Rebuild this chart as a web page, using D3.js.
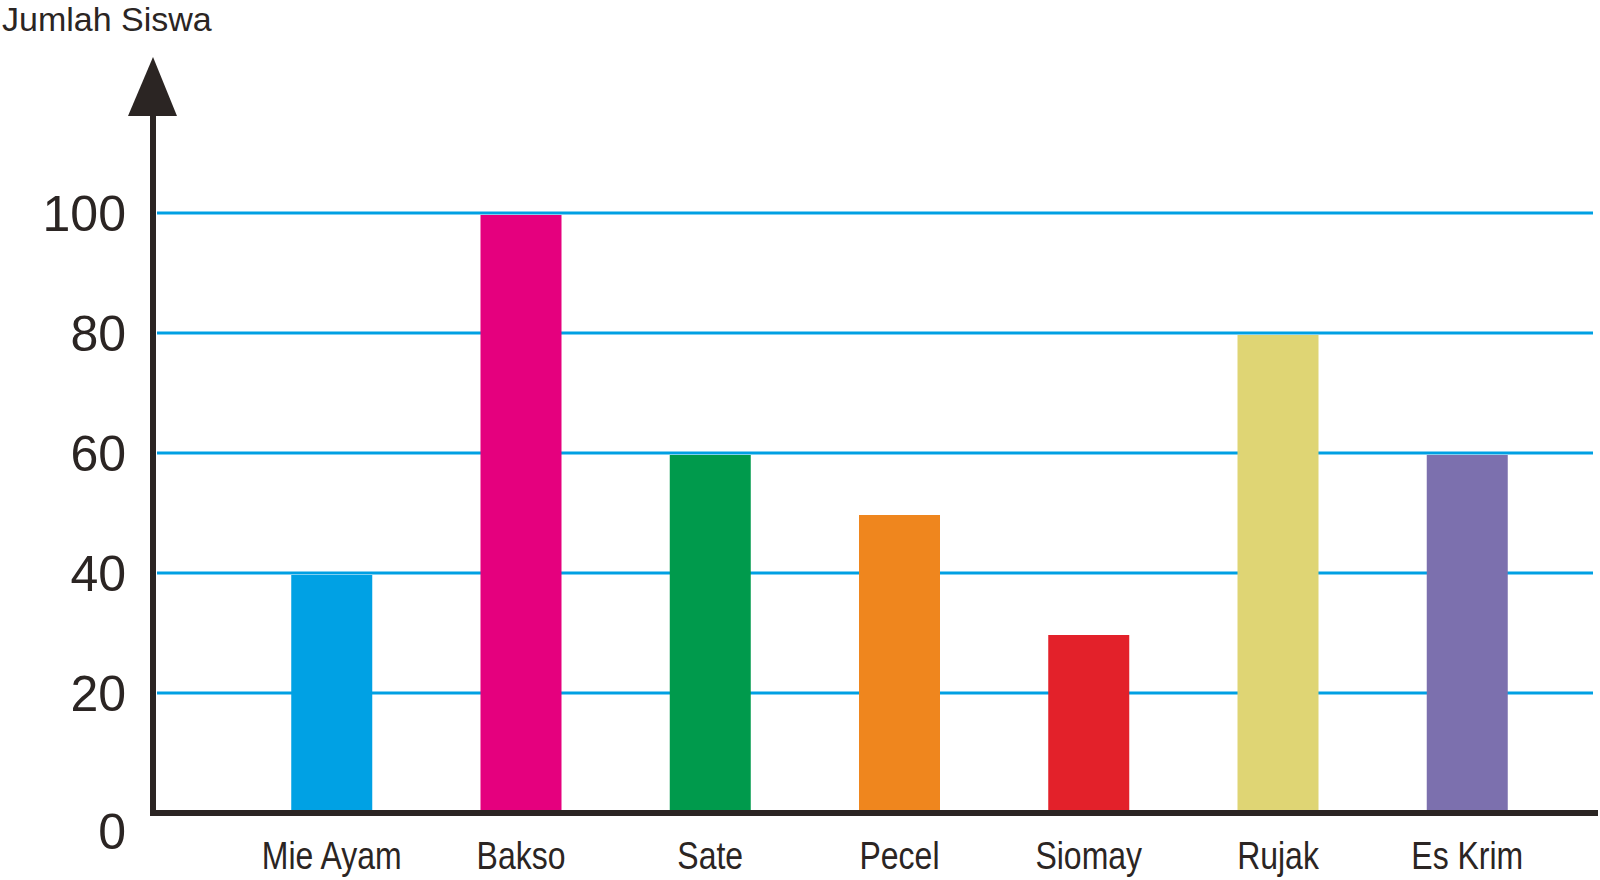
<!DOCTYPE html>
<html>
<head>
<meta charset="utf-8">
<script src="https://cdn.jsdelivr.net/npm/d3@7"></script>
<style>
  body { margin: 0; background: #fff; }
  svg { display: block; }
</style>
</head>
<body>
<div class="canvas"></div>
<script>
const categories = ["Mie Ayam", "Bakso", "Sate", "Pecel", "Siomay", "Rujak", "Es Krim"];
const values = [40, 100, 60, 50, 30, 80, 60];
const colors = ["#00a1e4", "#e5007e", "#009a4c", "#ef861e", "#e3212a", "#dfd574", "#7c70ae"];
const yTicks = [0, 20, 40, 60, 80, 100];
const yTitle = "Jumlah Siswa";

const width = 1600;
const height = 880;
const ink = "#2b2523";
const gridColor = "#00a0e3";

const svg = d3
  .select(".canvas")
  .append("svg")
  .attr("width", width)
  .attr("height", height);

const x = d3.scaleBand().domain(categories).range([183, 1616]).padding(0.572);
const y = d3.scaleLinear().domain([0, 100]).range([813, 213]);

// horizontal grid lines (behind bars)
svg
  .append("g")
  .selectAll("line")
  .data(yTicks.filter((d) => d > 0))
  .enter()
  .append("line")
  .attr("x1", 157)
  .attr("x2", 1593)
  .attr("y1", (d) => y(d))
  .attr("y2", (d) => y(d))
  .attr("stroke", gridColor)
  .attr("stroke-width", 3);

// bars
svg
  .append("g")
  .selectAll("rect")
  .data(values)
  .enter()
  .append("rect")
  .attr("x", (d, i) => x(categories[i]))
  .attr("width", x.bandwidth())
  .attr("y", (d) => y(d) + 2)
  .attr("height", (d) => y(0) - y(d) - 2)
  .attr("fill", (d, i) => colors[i]);

// axes
svg
  .append("line")
  .attr("x1", 153)
  .attr("x2", 153)
  .attr("y1", 110)
  .attr("y2", 816)
  .attr("stroke", ink)
  .attr("stroke-width", 6);

svg
  .append("line")
  .attr("x1", 150)
  .attr("x2", 1598)
  .attr("y1", y(0))
  .attr("y2", y(0))
  .attr("stroke", ink)
  .attr("stroke-width", 6);

svg
  .append("path")
  .attr("d", "M153,57 L177,116 L128,116 Z")
  .attr("fill", ink);

// y tick labels
svg
  .append("g")
  .selectAll("text")
  .data(yTicks)
  .enter()
  .append("text")
  .attr("x", 126)
  .attr("y", (d) => y(d) + (d === 0 ? 18 : 0))
  .attr("dy", "0.36em")
  .attr("text-anchor", "end")
  .attr("font-family", "'Liberation Sans', Arial, sans-serif")
  .attr("font-size", 50)
  .attr("fill", ink)
  .text((d) => d);

// category labels (condensed look)
svg
  .append("g")
  .selectAll("text")
  .data(categories)
  .enter()
  .append("text")
  .attr("transform", (d) => `translate(${x(d) + x.bandwidth() / 2}, 869) scale(0.82, 1)`)
  .attr("text-anchor", "middle")
  .attr("font-family", "'Liberation Sans', Arial, sans-serif")
  .attr("font-size", 39)
  .attr("fill", ink)
  .text((d) => d);

// axis title
svg
  .append("text")
  .attr("x", 2)
  .attr("y", 31)
  .attr("font-family", "'Liberation Sans', Arial, sans-serif")
  .attr("font-size", 34)
  .attr("fill", ink)
  .text(yTitle);
</script>
</body>
</html>
